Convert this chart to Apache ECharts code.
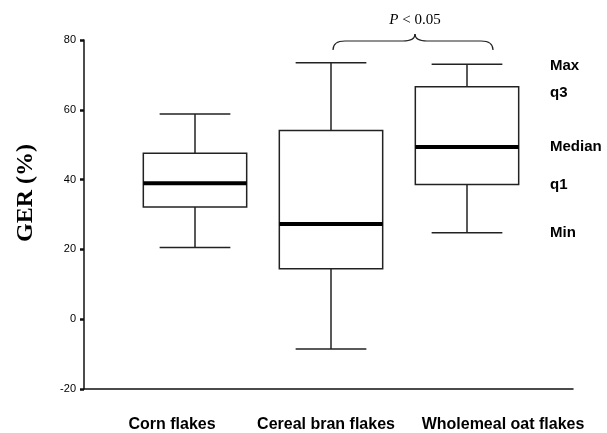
<!DOCTYPE html>
<html>
<head>
<meta charset="utf-8">
<script src="https://cdn.jsdelivr.net/npm/echarts@6/dist/echarts.min.js"></script>
<style>
  html, body { margin: 0; padding: 0; background: #fff; }
  #main { width: 607px; height: 433px; }
</style>
</head>
<body>
<div id="main"></div>
<script>
const categories = ['Corn flakes', 'Cereal bran flakes', 'Wholemeal oat flakes'];
const minVals = [20.9, -8.0, 25.1];
const q1Vals = [32.4, 14.8, 38.8];
const medianVals = [39.2, 27.6, 49.5];
const q3Vals = [47.7, 54.2, 66.7];
const maxVals = [58.9, 73.5, 73.1];
const yTicks = [-20, 0, 20, 40, 60, 80];
const statNames = ['Min', 'q1', 'Median', 'q3', 'Max'];

let boxData = [];
for (let i = 0; i < categories.length; i++) {
  boxData.push([i, minVals[i], q1Vals[i], medianVals[i], q3Vals[i], maxVals[i]]);
}

// labels in the original are not quite centred on their bands
const labelPads = [[0, 0, 0, 13], [0, 5, 0, 0], [0, 0, 0, 23]];
const axisCats = categories.map(function (c, i) {
  return { value: c, textStyle: { padding: labelPads[i] } };
});

const chart = echarts.init(document.getElementById('main'));

function renderBox(params, api) {
  const x = api.value(0);
  const band = api.size([1, 0])[0];
  const bw = band * 0.76, cw = band * 0.52;
  const pMin = api.coord([x, api.value(1)]);
  const pQ1 = api.coord([x, api.value(2)]);
  const pMed = api.coord([x, api.value(3)]);
  const pQ3 = api.coord([x, api.value(4)]);
  const pMax = api.coord([x, api.value(5)]);
  const cx = pMed[0];
  const thin = { stroke: '#222', lineWidth: 1.5, fill: null };
  let children = [
    { type: 'line', shape: { x1: cx, y1: pMax[1], x2: cx, y2: pQ3[1] }, style: thin },
    { type: 'line', shape: { x1: cx, y1: pQ1[1], x2: cx, y2: pMin[1] }, style: thin },
    { type: 'line', shape: { x1: cx - cw / 2, y1: pMax[1], x2: cx + cw / 2, y2: pMax[1] }, style: thin },
    { type: 'line', shape: { x1: cx - cw / 2, y1: pMin[1], x2: cx + cw / 2, y2: pMin[1] }, style: thin },
    { type: 'rect', shape: { x: cx - bw / 2, y: pQ3[1], width: bw, height: pQ1[1] - pQ3[1] }, style: { stroke: '#222', lineWidth: 1.5, fill: '#fff' } },
    { type: 'line', shape: { x1: cx - bw / 2, y1: pMed[1], x2: cx + bw / 2, y2: pMed[1] }, style: { stroke: '#000', lineWidth: 4 } }
  ];
  // stat names beside the last box
  if (params.dataIndex === categories.length - 1) {
    const ys = [pMin[1], pQ1[1], pMed[1], pQ3[1] + 6, pMax[1] + 2];
    for (let k = 0; k < statNames.length; k++) {
      children.push({
        type: 'text',
        x: cx + 83, y: ys[k],
        style: {
          text: statNames[k], fill: '#000', font: 'bold 15px "Liberation Sans", Arial, sans-serif',
          align: 'left', verticalAlign: 'middle'
        }
      });
    }
  }
  return { type: 'group', children: children };
}

const braceStyle = { stroke: '#222', lineWidth: 1.2, fill: null };

chart.setOption({
  animation: false,
  backgroundColor: '#fff',
  grid: [
    { left: 84, right: 34, top: 40, bottom: 42 },
    { left: 127, right: 72, top: 40, bottom: 42 }
  ],
  xAxis: [{
    gridIndex: 0,
    type: 'category',
    data: axisCats,
    axisLine: { onZero: false, lineStyle: { color: '#111', width: 1.5 } },
    axisTick: { show: false },
    axisLabel: {
      interval: 0,
      hideOverlap: false,
      margin: 28,
      color: '#000',
      fontSize: 16,
      fontWeight: 'bold',
      fontFamily: '"Liberation Sans", Arial, sans-serif'
    },
    splitLine: { show: false }
  }, {
    gridIndex: 1,
    type: 'category',
    data: categories,
    show: false
  }],
  yAxis: [{
    gridIndex: 0,
    type: 'value',
    min: -20,
    max: 80,
    interval: 20,
    name: 'GER (%)',
    nameLocation: 'middle',
    nameRotate: 90,
    nameGap: 46,
    nameTextStyle: {
      fontFamily: '"Liberation Serif", "Times New Roman", serif',
      fontWeight: 'bold',
      fontSize: 24,
      color: '#000',
      padding: [0, 0, 0, 43]
    },
    axisLine: { show: true, lineStyle: { color: '#111', width: 1.5 } },
    axisTick: { show: true, length: 4, lineStyle: { color: '#111', width: 2.5 } },
    axisLabel: {
      margin: 8,
      color: '#000',
      fontSize: 11,
      fontFamily: '"Liberation Sans", Arial, sans-serif',
      formatter: function (v) { return yTicks.indexOf(v) >= 0 ? String(v) : ''; }
    },
    splitLine: { show: false }
  }, {
    gridIndex: 1,
    type: 'value',
    min: -20,
    max: 80,
    show: false
  }],
  graphic: [{
    type: 'group',
    children: [
      { type: 'bezierCurve', shape: { x1: 333, y1: 50, cpx1: 333, cpy1: 41, x2: 345, y2: 41 }, style: braceStyle },
      { type: 'line', shape: { x1: 345, y1: 41, x2: 403, y2: 41 }, style: braceStyle },
      { type: 'bezierCurve', shape: { x1: 403, y1: 41, cpx1: 415, cpy1: 41, x2: 415, y2: 34 }, style: braceStyle },
      { type: 'bezierCurve', shape: { x1: 415, y1: 34, cpx1: 415, cpy1: 41, x2: 427, y2: 41 }, style: braceStyle },
      { type: 'line', shape: { x1: 427, y1: 41, x2: 481, y2: 41 }, style: braceStyle },
      { type: 'bezierCurve', shape: { x1: 481, y1: 41, cpx1: 493, cpy1: 41, x2: 493, y2: 50 }, style: braceStyle }
    ]
  }, {
    type: 'text',
    x: 415, y: 20,
    style: {
      text: '{i|P} < 0.05',
      align: 'center', verticalAlign: 'middle',
      fill: '#000',
      font: '15px "Liberation Serif", "Times New Roman", serif',
      rich: { i: { fontStyle: 'italic', fontSize: 15, fontFamily: '"Liberation Serif", serif' } }
    }
  }],
  series: [{
    type: 'custom',
    xAxisIndex: 1,
    yAxisIndex: 1,
    renderItem: renderBox,
    encode: { x: 0, y: [1, 5] },
    data: boxData,
    z: 5
  }]
});
</script>
</body>
</html>
